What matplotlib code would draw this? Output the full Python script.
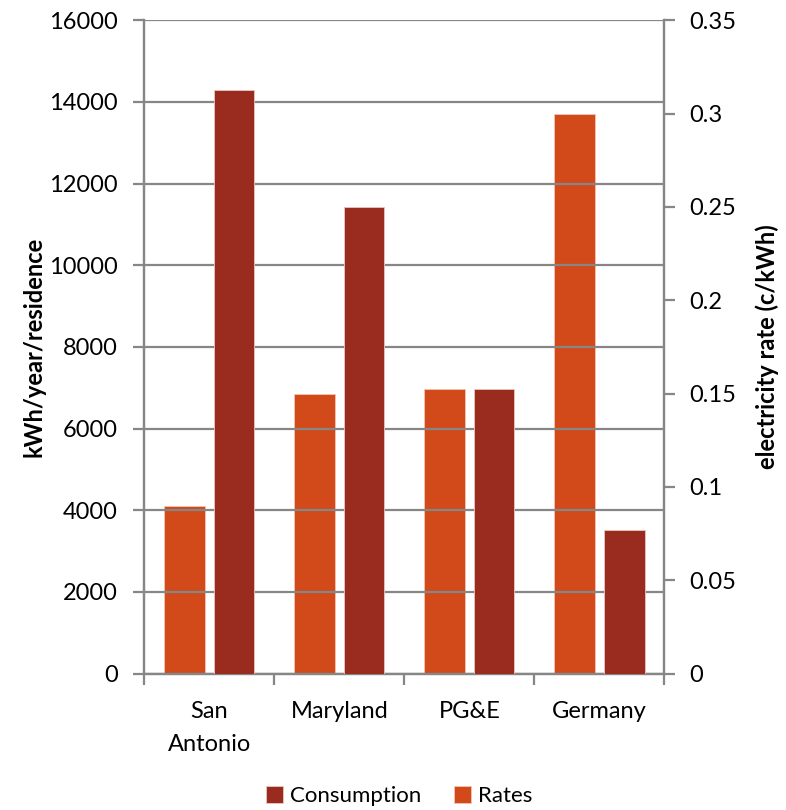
import numpy as np
import matplotlib
matplotlib.use("Agg")
import matplotlib.pyplot as plt
from matplotlib.ticker import FixedLocator, FuncFormatter

plt.rcParams['font.family'] = ['Lato', 'DejaVu Sans']

regions     = ["San\nAntonio", "Maryland", "PG&E", "Germany"]
consumption = [14280, 11435, 6970, 3520]      # kWh/year/residence
rates       = [0.09, 0.15, 0.1525, 0.30]      # c/kWh

C_CONS  = "#9A2B1F"
C_RATE  = "#D24A19"
GRIDCOL = "#868686"
FS = 17

fig = plt.figure(figsize=(7.86, 8.10), dpi=100)
ax = fig.add_axes([0.1836, 0.1683, 0.8452 - 0.1836, 0.975 - 0.1683])
ax2 = ax.twinx()

x = np.arange(len(regions))
w = 0.315
off = 0.19

b_rate = ax2.bar(x - off, rates, w, color=C_RATE, edgecolor="#F3C4B3",
                 linewidth=0.6, label="Rates", zorder=3)
b_cons = ax.bar(x + off, consumption, w, color=C_CONS, edgecolor="#EBC6C2",
                linewidth=0.6, label="Consumption", zorder=3)

# draw the twin axis under the primary so gridlines on ax stay behind bars
ax.set_zorder(ax2.get_zorder() + 1)
ax.patch.set_visible(False)

ax.set_xlim(-0.5, len(regions) - 0.5)
ax.set_ylim(0, 16000)
ax2.set_ylim(0, 0.35)

ax.set_yticks(np.arange(0, 16001, 2000))
ax2.set_yticks(np.arange(0, 0.351, 0.05))
ax2.yaxis.set_major_formatter(FuncFormatter(lambda v, p: f"{v:.2f}".rstrip("0").rstrip(".")))

ax.yaxis.grid(True, color=GRIDCOL, lw=1.6, zorder=0)
ax.set_axisbelow(True)

# category labels centred, tick marks at the group boundaries
ax.set_xticks(x)
ax.set_xticklabels(regions, fontsize=FS, linespacing=1.65)
ax.tick_params(axis="x", which="major", length=0, pad=20)
ax.xaxis.set_minor_locator(FixedLocator(np.arange(-0.5, len(regions), 1)))
ax.tick_params(axis="x", which="minor", length=8, width=1.6, color=GRIDCOL)

ax.tick_params(axis="y", length=8, width=1.6, color=GRIDCOL, labelsize=FS, pad=11)
ax2.tick_params(axis="y", length=8, width=1.6, color=GRIDCOL, labelsize=FS, pad=10)

for a in (ax, ax2):
    for s in a.spines.values():
        s.set_color(GRIDCOL)
        s.set_linewidth(1.6)
    a.spines["top"].set_visible(False)

ax.set_ylabel("kWh/year/residence", fontsize=FS, fontweight="bold", labelpad=3)
ax2.set_ylabel("electricity rate (c/kWh)", fontsize=FS, fontweight="bold", labelpad=14)

fig.legend([b_cons, b_rate], ["Consumption", "Rates"], loc="center",
           bbox_to_anchor=(0.508, 0.017), ncol=2, frameon=False, fontsize=16,
           handlelength=0.75, handleheight=0.75, handletextpad=0.3, columnspacing=1.5)

fig.savefig("out.png", dpi=100)
